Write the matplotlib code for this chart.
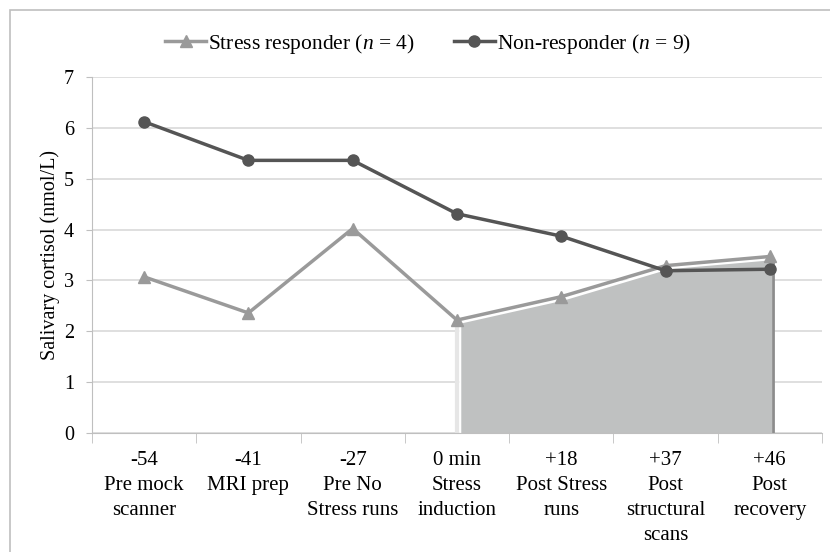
import matplotlib
matplotlib.use("Agg")
import matplotlib.pyplot as plt
import matplotlib.transforms as mtransforms
from matplotlib.patches import Rectangle
import numpy as np

plt.rcParams['font.family'] = ['Liberation Serif', 'DejaVu Serif']
plt.rcParams['mathtext.fontset'] = 'custom'
plt.rcParams['mathtext.rm'] = 'Liberation Serif'
plt.rcParams['mathtext.it'] = 'Liberation Serif:italic'

# data
times = ['-54', '-41', '-27', '0 min', '+18', '+37', '+46']
phases = ['Pre mock\nscanner', 'MRI prep', 'Pre No\nStress runs', 'Stress\ninduction',
          'Post Stress\nruns', 'Post\nstructural\nscans', 'Post\nrecovery']
stress = [3.07, 2.36, 4.02, 2.22, 2.68, 3.29, 3.47]
nonresp = [6.12, 5.36, 5.36, 4.31, 3.87, 3.19, 3.22]
shade_from = 3   # shaded area from "0 min" onward

x = np.arange(len(times))
labels = [t + '\n' + p for t, p in zip(times, phases)]

fig = plt.figure(figsize=(8.3, 5.52), dpi=100)
ax = fig.add_axes([0.1108, 0.2156, 0.8795, 0.645])

# outer frame (only left/top visible in the reference)
fig.patches.append(Rectangle((10/830, -0.1), 1.2, 1 - 10/552 + 0.1, transform=fig.transFigure,
                             fill=False, edgecolor='#bfbfbf', linewidth=1.2))

# shaded area under stress responder after induction
off = mtransforms.ScaledTranslation(2/72, -1.5/72, fig.dpi_scale_trans)
xs = x[shade_from:]
ys = np.array(stress[shade_from:])
ax.fill_between(xs, 0, ys, color='#bfc1c1', edgecolor='white', linewidth=1.5,
                transform=ax.transData + off, zorder=2)
ax.plot([xs[0], xs[0]], [0, ys[0]], color='#e6e6e6', linewidth=3,
        transform=ax.transData, zorder=2)
ax.plot([xs[-1], xs[-1]], [0, ys[-1]], color='#8c8c8c', linewidth=2,
        transform=ax.transData + off, zorder=2)

ax.plot(x, stress, color='#9a9a9a', linewidth=2.5, marker='^', markersize=9,
        label=r'Stress responder ($\it{n}$ = 4)', zorder=3)
ax.plot(x, nonresp, color='#555555', linewidth=2.5, marker='o', markersize=8,
        label=r'Non-responder ($\it{n}$ = 9)', zorder=4)

ax.set_xlim(-0.5, len(times) - 0.5)
ax.set_ylim(0, 7)
ax.set_yticks(range(0, 8))
ax.set_xticks(x)
ax.set_xticklabels(labels, fontsize=15, linespacing=1.42)
ax.set_xticks(np.arange(-0.5, len(times), 1), minor=True)
ax.tick_params(axis='x', which='major', length=0, pad=13)
ax.tick_params(axis='x', which='minor', length=7, color='#bfbfbf')
ax.tick_params(axis='y', length=4, color='#bfbfbf', labelsize=14.5, pad=9)

ax.grid(axis='y', color='#d9d9d9', linewidth=1.2, zorder=0)
ax.set_axisbelow(True)
for s in ['top', 'right']:
    ax.spines[s].set_visible(False)
ax.spines['left'].set_color('#bfbfbf')
ax.spines['bottom'].set_color('#bfbfbf')

ax.set_ylabel('Salivary cortisol (nmol/L)', fontsize=14.5, labelpad=3)

fig.legend(loc='center', bbox_to_anchor=(428/830, 1 - 44/552), ncol=2, frameon=False,
           fontsize=15.5, handlelength=1.9, handletextpad=0.1, columnspacing=1.8)

fig.savefig('out.png', dpi=100)
